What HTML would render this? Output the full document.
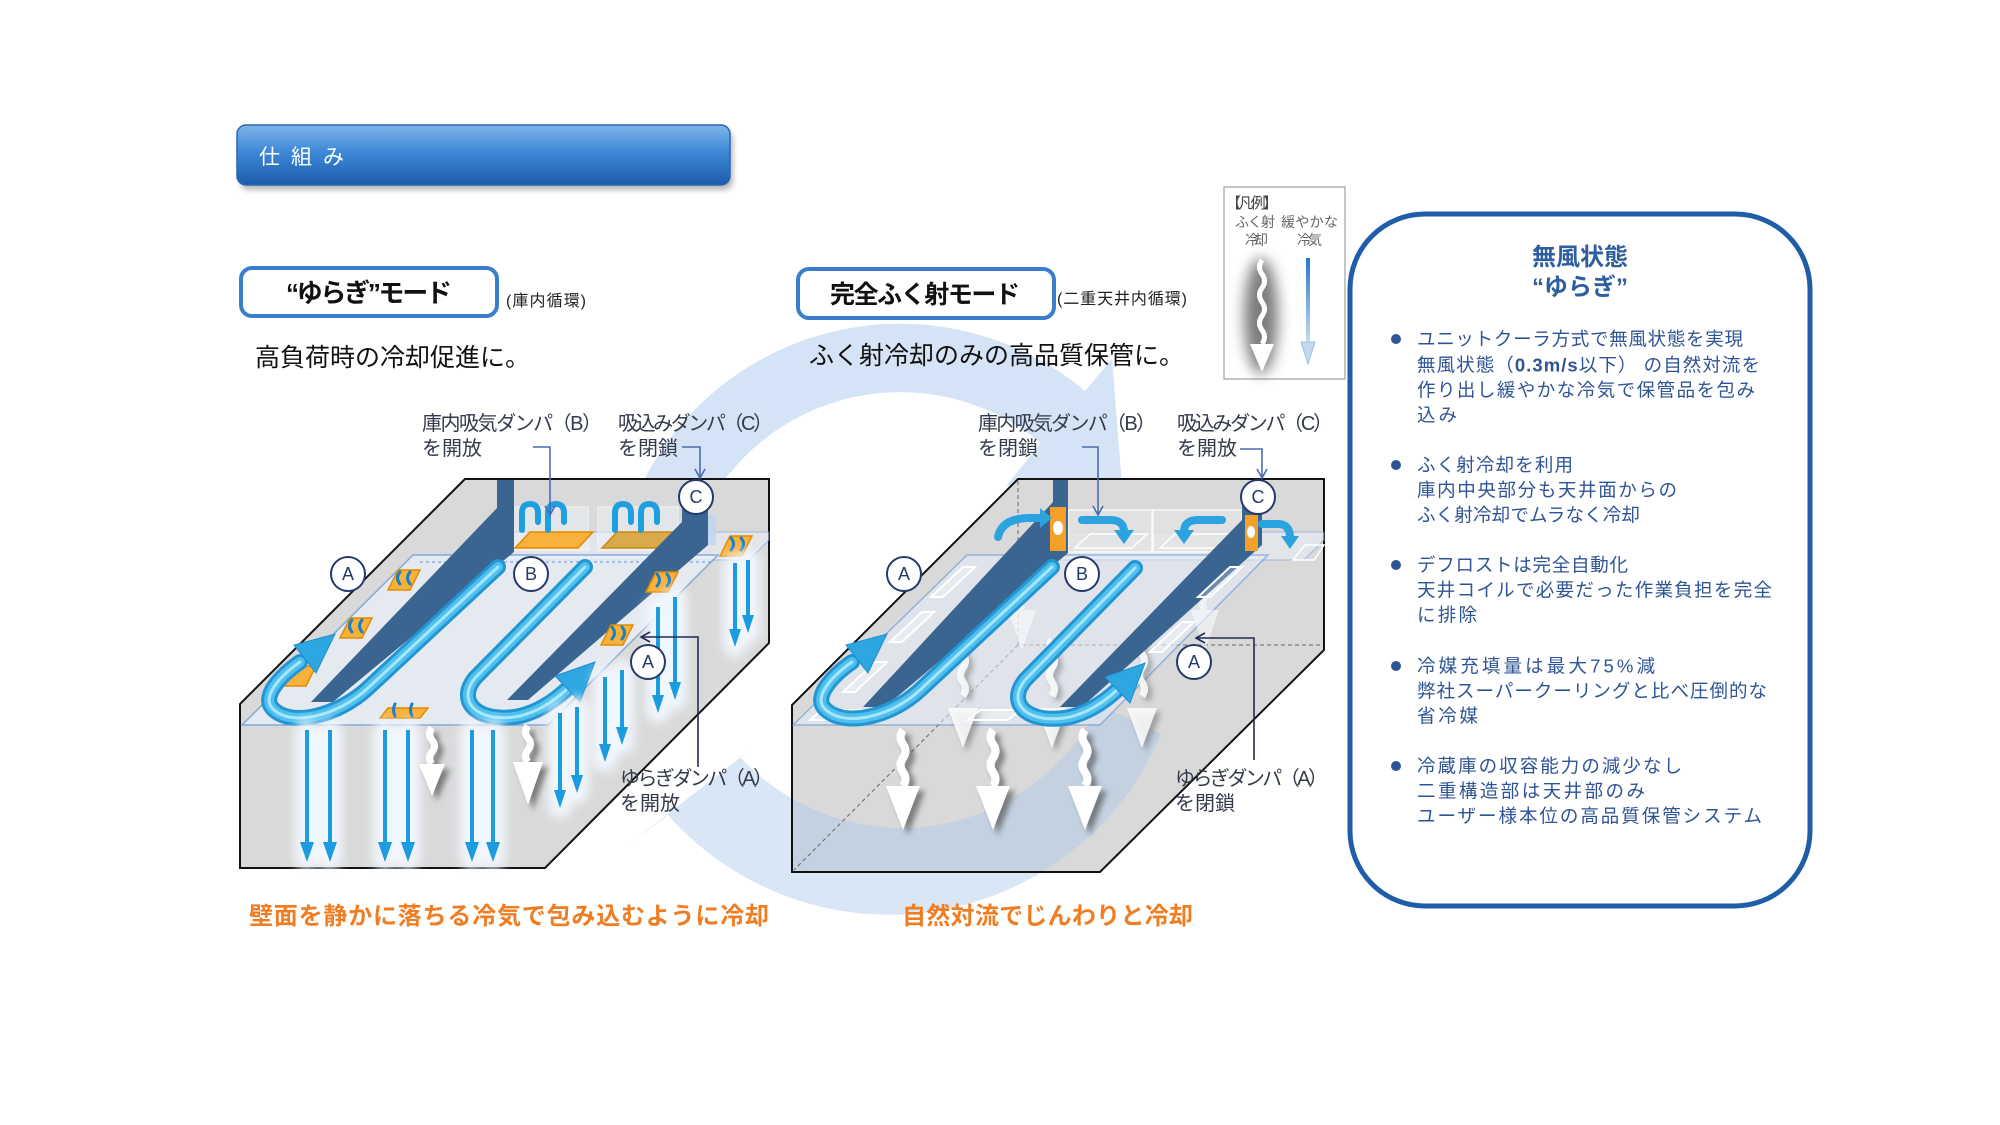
<!DOCTYPE html>
<html><head><meta charset="utf-8">
<style>
html,body{margin:0;padding:0;background:#fff;}
svg{display:block;}
text{font-family:"Liberation Sans","Noto Sans CJK JP",sans-serif;}
</style></head><body>
<svg width="2000" height="1125" viewBox="0 0 2000 1125" xmlns="http://www.w3.org/2000/svg">
<defs>
 <linearGradient id="hdr" x1="0" y1="0" x2="0" y2="1">
  <stop offset="0" stop-color="#7fb5e8"/><stop offset="0.45" stop-color="#3d88d8"/><stop offset="1" stop-color="#1d5cab"/>
 </linearGradient>
 <linearGradient id="lgB" x1="0" y1="0" x2="0" y2="1">
  <stop offset="0" stop-color="#2a78c8"/><stop offset="1" stop-color="#cfe2f4"/>
 </linearGradient>
 <filter id="sd" x="-20%" y="-30%" width="140%" height="160%"><feGaussianBlur stdDeviation="3"/></filter>
 <filter id="gl" x="-200%" y="-30%" width="500%" height="160%"><feGaussianBlur stdDeviation="5"/></filter>
 <filter id="lg" x="-100%" y="-50%" width="300%" height="200%"><feGaussianBlur stdDeviation="7"/></filter>
</defs>

<!-- Header bar -->
<rect x="240" y="130" width="493" height="60" rx="9" fill="#8a8a8a" opacity="0.6" filter="url(#sd)"/>
<rect x="237" y="125" width="493" height="60" rx="9" fill="url(#hdr)" stroke="#2b67b2" stroke-width="1.5"/>
<text x="259" y="164" font-size="21" fill="#fff" textLength="85">仕 組 み</text>

<!-- Mode boxes -->
<rect x="241" y="268" width="256" height="48" rx="11" fill="#fff" stroke="#3a7ecb" stroke-width="4"/>
<text x="369" y="302" font-size="26" font-weight="bold" text-anchor="middle" fill="#111" textLength="166">“ゆらぎ”モード</text>
<text x="506" y="306" font-size="16" fill="#222" textLength="80">(庫内循環)</text>
<text x="255" y="366" font-size="25" fill="#111">高負荷時の冷却促進に。</text>

<rect x="798" y="269" width="256" height="49" rx="11" fill="#fff" stroke="#3a7ecb" stroke-width="4"/>
<text x="925" y="303" font-size="25" font-weight="bold" text-anchor="middle" fill="#111" textLength="190">完全ふく射モード</text>
<text x="1057" y="304" font-size="16" fill="#222" textLength="130">(二重天井内循環)</text>

<!-- upper circular arc -->
<path d="M639,490 A288,288 0 0 1 1085,391 L1112,359 L1123,498 L1006,486 L1041,443 A220,220 0 0 0 701,519 Z" fill="#a9c8ec" opacity="0.5"/>

<text x="809" y="364" font-size="25" fill="#111">ふく射冷却のみの高品質保管に。</text>

<!-- ================= LEFT BOX ================= -->
<path d="M465,479 L769,479 L769,643 L545,868 L240,868 L240,704 Z" fill="#d9d9d9" stroke="#111" stroke-width="2"/>
<polygon points="492,532 769,532 769,540 749,560 470,560" fill="#e8eff8" opacity="0.6" stroke="#7aa3dc" stroke-width="1"/>
<rect x="508" y="507" width="80" height="43" fill="#eef3f9" opacity="0.5" stroke="#fff" stroke-width="1.5"/>
<rect x="598" y="507" width="80" height="43" fill="#eef3f9" opacity="0.5" stroke="#fff" stroke-width="1.5"/>
<polygon points="515,548 530,532 593,532 578,548" fill="#f7b23b" stroke="#e58a00" stroke-width="1.5"/>
<polygon points="602,548 617,532 675,532 660,548" fill="#d9a94a" stroke="#c98a10" stroke-width="1.5"/>
<rect x="493" y="520" width="12" height="28" fill="#bcd6f2" opacity="0.8"/>
<rect x="708" y="515" width="8" height="30" fill="#bcd6f2" opacity="0.8"/>
<g fill="none" stroke="#1f9ee0" stroke-width="6" stroke-linecap="round">
 <path d="M522,530 L522,513 Q522,504 530,504 Q538,504 538,513 L538,522"/>
 <path d="M548,530 L548,513 Q548,504 556,504 Q564,504 564,513 L564,522"/>
 <path d="M615,530 L615,513 Q615,504 623,504 Q631,504 631,513 L631,522"/>
 <path d="M641,530 L641,513 Q641,504 649,504 Q657,504 657,513 L657,522"/>
</g>
<polygon points="242,725 413,555 718,555 548,725" fill="#ecf3fc" opacity="0.68" stroke="#5f92d8" stroke-width="1.5"/>
<line x1="420" y1="562" x2="712" y2="562" stroke="#5f92d8" stroke-width="1" stroke-dasharray="3,3"/>
<polygon points="497,480 514,480 514,552 333,702 311,702 497,508" fill="#3b6591"/>
<polygon points="682,500 708,500 708,545 528,700 507,700 682,522" fill="#3b6591"/>
<g fill="#f7b23b" stroke="#e58a00" stroke-width="1.5">
 <polygon points="388,590 410,590 420,570 398,570"/>
 <polygon points="340,638 362,638 372,618 350,618"/>
 <polygon points="284,686 306,686 316,666 294,666"/>
 <polygon points="646,592 668,592 678,572 656,572"/>
 <polygon points="601,645 623,645 633,625 611,625"/>
 <polygon points="720,556 742,556 752,536 730,536"/>
 <polygon points="380,718 420,718 428,708 388,708"/>
</g>
<g fill="none" stroke="#1a7fc4" stroke-width="3" stroke-linecap="round">
 <path d="M400,572 q-5,6 0,12"/><path d="M410,572 q-5,6 0,12"/>
 <path d="M352,620 q-5,6 0,12"/><path d="M362,620 q-5,6 0,12"/>
 <path d="M657,574 q5,6 0,12"/><path d="M667,574 q5,6 0,12"/>
 <path d="M612,627 q5,6 0,12"/><path d="M622,627 q5,6 0,12"/>
 <path d="M731,538 q5,6 0,12"/><path d="M741,538 q5,6 0,12"/>
 <path d="M395,704 q-3,6 0,12"/><path d="M412,704 q-3,6 0,12"/>
</g>
<g fill="none" stroke-linecap="round" stroke-linejoin="round">
 <path d="M498,567 L368,688 C338,716 290,728 272,708 C262,696 280,676 300,662" stroke="#2295d2" stroke-width="16"/>
 <path d="M498,567 L368,688 C338,716 290,728 272,708 C262,696 280,676 300,662" stroke="#4fc0ee" stroke-width="10"/>
 <path d="M498,567 L368,688 C338,716 290,728 272,708 C262,696 280,676 300,662" stroke="#a6e6fb" stroke-width="3"/>
 <path d="M585,567 L475,678 C455,703 480,724 520,716 C540,711 555,700 566,690" stroke="#2295d2" stroke-width="16"/>
 <path d="M585,567 L475,678 C455,703 480,724 520,716 C540,711 555,700 566,690" stroke="#4fc0ee" stroke-width="10"/>
 <path d="M585,567 L475,678 C455,703 480,724 520,716 C540,711 555,700 566,690" stroke="#a6e6fb" stroke-width="3"/>
</g>
<polygon points="335,634 316,673 294,645" fill="#2ea6e2" stroke="#1f8fd0" stroke-width="1"/>
<polygon points="595,662 580,702 555,676" fill="#2ea6e2" stroke="#1f8fd0" stroke-width="1"/>
<g stroke="#f2f8ff" stroke-width="24" stroke-linecap="round" filter="url(#gl)" opacity="0.95">
 <line x1="307" y1="732" x2="307" y2="858"/><line x1="330" y1="732" x2="330" y2="858"/>
 <line x1="385" y1="732" x2="385" y2="858"/><line x1="408" y1="732" x2="408" y2="858"/>
 <line x1="472" y1="732" x2="472" y2="858"/><line x1="493" y1="732" x2="493" y2="858"/>
 <line x1="560" y1="715" x2="560" y2="806"/><line x1="577" y1="709" x2="577" y2="791"/>
 <line x1="605" y1="679" x2="605" y2="760"/><line x1="622" y1="672" x2="622" y2="743"/>
 <line x1="658" y1="609" x2="658" y2="711"/><line x1="675" y1="599" x2="675" y2="698"/>
 <line x1="735" y1="565" x2="735" y2="645"/><line x1="748" y1="562" x2="748" y2="631"/>
</g>
<g transform="translate(5,5)" filter="url(#sd)" opacity="0.7">
 <path d="M432,728 q-5,6 0,12 t0,12 t0,12" fill="none" stroke="#555" stroke-width="7"/>
 <polygon points="419,764 445,764 432,796" fill="#555"/>
 <path d="M528,726 q-5,6 0,12 t0,12 t0,12" fill="none" stroke="#555" stroke-width="7"/>
 <polygon points="513,762 543,762 528,805" fill="#555"/>
</g>
<path d="M432,728 q-5,6 0,12 t0,12 t0,12" fill="none" stroke="#fff" stroke-width="7"/>
<polygon points="419,764 445,764 432,796" fill="#fff"/>
<path d="M528,726 q-5,6 0,12 t0,12 t0,12" fill="none" stroke="#fff" stroke-width="7"/>
<polygon points="513,762 543,762 528,805" fill="#fff"/>
<g stroke="#1b9be0" stroke-width="4">
 <line x1="307" y1="730" x2="307" y2="846"/><line x1="330" y1="730" x2="330" y2="846"/>
 <line x1="385" y1="730" x2="385" y2="846"/><line x1="408" y1="730" x2="408" y2="846"/>
 <line x1="472" y1="730" x2="472" y2="846"/><line x1="493" y1="730" x2="493" y2="846"/>
 <line x1="560" y1="713" x2="560" y2="794"/><line x1="577" y1="707" x2="577" y2="779"/>
 <line x1="605" y1="677" x2="605" y2="748"/><line x1="622" y1="670" x2="622" y2="731"/>
 <line x1="658" y1="607" x2="658" y2="699"/><line x1="675" y1="597" x2="675" y2="686"/>
 <line x1="735" y1="563" x2="735" y2="633"/><line x1="748" y1="560" x2="748" y2="619"/>
</g>
<g fill="#1b9be0">
 <polygon points="300,842 314,842 307,862"/><polygon points="323,842 337,842 330,862"/>
 <polygon points="378,842 392,842 385,862"/><polygon points="401,842 415,842 408,862"/>
 <polygon points="465,842 479,842 472,862"/><polygon points="486,842 500,842 493,862"/>
 <polygon points="554,790 566,790 560,808"/><polygon points="571,775 583,775 577,793"/>
 <polygon points="599,744 611,744 605,762"/><polygon points="616,727 628,727 622,745"/>
 <polygon points="652,695 664,695 658,713"/><polygon points="669,682 681,682 675,700"/>
 <polygon points="729,629 741,629 735,647"/><polygon points="742,615 754,615 748,633"/>
</g>

<!-- ================= RIGHT BOX ================= -->
<path d="M1018,479 L1324,479 L1324,650 L1100,872 L792,872 L792,705 Z" fill="#d9d9d9"/>
<path d="M1099,705 A220,220 0 0 1 740,757 L750,750 L628,845 L668,815 A295,295 0 0 0 1161,734 Z" fill="#a9c8ec" opacity="0.45"/>
<path d="M1018,479 L1324,479 L1324,650 L1100,872 L792,872 L792,705 Z" fill="none" stroke="#111" stroke-width="2"/>
<g stroke="#666" stroke-width="1" stroke-dasharray="4,3" fill="none">
 <path d="M1018,481 V645 H1322"/><path d="M1018,645 L794,870"/>
</g>
<polygon points="1045,532 1324,532 1324,540 1304,560 1022,560" fill="#e8eff8" opacity="0.6" stroke="#7aa3dc" stroke-width="1"/>
<rect x="1068" y="510" width="84" height="42" fill="#e4e4e4" opacity="0.8" stroke="#fff" stroke-width="1.5"/>
<rect x="1153" y="510" width="89" height="42" fill="#e4e4e4" opacity="0.8" stroke="#fff" stroke-width="1.5"/>
<polygon points="1075,548 1090,534 1147,534 1132,548" fill="none" stroke="#fff" stroke-width="1.5"/>
<polygon points="1160,548 1175,534 1237,534 1222,548" fill="none" stroke="#fff" stroke-width="1.5"/>
<polygon points="1293,560 1305,545 1324,545 1314,560" fill="none" stroke="#fff" stroke-width="1.5"/>
<polygon points="793,725 967,555 1268,555 1100,725" fill="#e6eef9" opacity="0.55" stroke="#5f92d8" stroke-width="1.5"/>
<g opacity="0.55">
 <path d="M1022,568 q-5,7 0,14 t0,14 t0,14" fill="none" stroke="#fff" stroke-width="7"/>
 <polygon points="1008,610 1036,610 1022,650" fill="#fff"/>
 <path d="M1205,568 q-5,7 0,14 t0,14 t0,14" fill="none" stroke="#fff" stroke-width="7"/>
 <polygon points="1191,610 1219,610 1205,650" fill="#fff"/>
</g>
<g transform="translate(4,4)" filter="url(#sd)" opacity="0.45">
 <path d="M963,640 q-5,7 0,14 t0,14 t0,14 t0,14" fill="none" stroke="#555" stroke-width="7"/><polygon points="948,708 978,708 963,748" fill="#555"/>
 <path d="M1052,640 q-5,7 0,14 t0,14 t0,14 t0,14" fill="none" stroke="#555" stroke-width="7"/><polygon points="1037,708 1067,708 1052,748" fill="#555"/>
 <path d="M1142,640 q-5,7 0,14 t0,14 t0,14 t0,14" fill="none" stroke="#555" stroke-width="7"/><polygon points="1127,708 1157,708 1142,748" fill="#555"/>
</g>
<g opacity="0.85">
 <path d="M963,640 q-5,7 0,14 t0,14 t0,14 t0,14" fill="none" stroke="#fff" stroke-width="7"/><polygon points="948,708 978,708 963,748" fill="#fff"/>
 <path d="M1052,640 q-5,7 0,14 t0,14 t0,14 t0,14" fill="none" stroke="#fff" stroke-width="7"/><polygon points="1037,708 1067,708 1052,748" fill="#fff"/>
 <path d="M1142,640 q-5,7 0,14 t0,14 t0,14 t0,14" fill="none" stroke="#fff" stroke-width="7"/><polygon points="1127,708 1157,708 1142,748" fill="#fff"/>
</g>
<polygon points="1053,480 1068,480 1068,553 885,707 863,707 1053,502" fill="#3b6591"/>
<polygon points="1242,500 1262,500 1262,545 1082,707 1060,707 1242,520" fill="#3b6591"/>
<rect x="1050" y="507" width="16" height="44" fill="#f3a12a"/>
<ellipse cx="1058" cy="528" rx="5" ry="7" fill="#fff"/>
<rect x="1245" y="515" width="13" height="36" fill="#f3a12a"/>
<ellipse cx="1251" cy="532" rx="4" ry="6" fill="#fff"/>
<g fill="none" stroke="#2aa3df" stroke-width="8" stroke-linecap="round">
 <path d="M998,537 Q1002,518 1030,518 L1040,518"/>
 <path d="M1082,520 L1110,520 Q1124,520 1124,532"/>
 <path d="M1222,520 L1198,520 Q1184,520 1184,532"/>
 <path d="M1262,524 L1278,524 Q1290,524 1290,538"/>
</g>
<g fill="#2aa3df">
 <polygon points="1040,508 1040,528 1052,518"/>
 <polygon points="1114,530 1134,530 1124,544"/>
 <polygon points="1174,530 1194,530 1184,544"/>
 <polygon points="1281,536 1299,536 1290,549"/>
</g>
<g fill="#ffffff" fill-opacity="0.25" stroke="#fff" stroke-width="2">
 <polygon points="931,597 943,597 975,567 963,567"/>
 <polygon points="890,642 902,642 934,612 922,612"/>
 <polygon points="843,692 855,692 887,662 875,662"/>
 <polygon points="810,720 850,720 862,710 822,710"/>
 <polygon points="968,720 1008,720 1020,710 980,710"/>
 <polygon points="1198,597 1210,597 1242,567 1230,567"/>
 <polygon points="1150,652 1162,652 1194,622 1182,622"/>
</g>
<g fill="none" stroke-linecap="round" stroke-linejoin="round">
 <path d="M1052,567 L920,690 C890,718 842,728 824,708 C814,696 832,676 852,662" stroke="#2295d2" stroke-width="16"/>
 <path d="M1052,567 L920,690 C890,718 842,728 824,708 C814,696 832,676 852,662" stroke="#4fc0ee" stroke-width="10"/>
 <path d="M1052,567 L920,690 C890,718 842,728 824,708 C814,696 832,676 852,662" stroke="#a6e6fb" stroke-width="3"/>
 <path d="M1135,568 L1025,680 C1005,705 1030,725 1070,717 C1090,712 1105,701 1116,691" stroke="#2295d2" stroke-width="16"/>
 <path d="M1135,568 L1025,680 C1005,705 1030,725 1070,717 C1090,712 1105,701 1116,691" stroke="#4fc0ee" stroke-width="10"/>
 <path d="M1135,568 L1025,680 C1005,705 1030,725 1070,717 C1090,712 1105,701 1116,691" stroke="#a6e6fb" stroke-width="3"/>
</g>
<polygon points="887,634 868,673 846,645" fill="#2ea6e2" stroke="#1f8fd0" stroke-width="1"/>
<polygon points="1145,663 1130,703 1105,677" fill="#2ea6e2" stroke="#1f8fd0" stroke-width="1"/>
<g transform="translate(5,5)" filter="url(#sd)" opacity="0.7">
 <path d="M903,730 q-5,7 0,14 t0,14 t0,14 t0,14" fill="none" stroke="#555" stroke-width="8"/><polygon points="886,786 920,786 903,830" fill="#555"/>
 <path d="M993,730 q-5,7 0,14 t0,14 t0,14 t0,14" fill="none" stroke="#555" stroke-width="8"/><polygon points="976,786 1010,786 993,830" fill="#555"/>
 <path d="M1085,730 q-5,7 0,14 t0,14 t0,14 t0,14" fill="none" stroke="#555" stroke-width="8"/><polygon points="1068,786 1102,786 1085,830" fill="#555"/>
</g>
<g>
 <path d="M903,730 q-5,7 0,14 t0,14 t0,14 t0,14" fill="none" stroke="#fff" stroke-width="8"/><polygon points="886,786 920,786 903,830" fill="#fff"/>
 <path d="M993,730 q-5,7 0,14 t0,14 t0,14 t0,14" fill="none" stroke="#fff" stroke-width="8"/><polygon points="976,786 1010,786 993,830" fill="#fff"/>
 <path d="M1085,730 q-5,7 0,14 t0,14 t0,14 t0,14" fill="none" stroke="#fff" stroke-width="8"/><polygon points="1068,786 1102,786 1085,830" fill="#fff"/>
</g>

<!-- ================= LEGEND ================= -->
<rect x="1224" y="187" width="121" height="192" fill="#fff" stroke="#a0a0a0" stroke-width="1.2"/>
<text x="1226" y="208" font-size="15" fill="#444" textLength="52">【凡例】</text>
<text x="1235" y="227" font-size="14" fill="#666" textLength="40">ふく射</text>
<text x="1281" y="227" font-size="14" fill="#666" textLength="57">緩やかな</text>
<text x="1245" y="245" font-size="14" fill="#666" textLength="23">冷却</text>
<text x="1297" y="245" font-size="14" fill="#666" textLength="25">冷気</text>
<ellipse cx="1261" cy="316" rx="17" ry="58" fill="#6e6e6e" filter="url(#lg)" opacity="0.9"/>
<path d="M1262,260 q-5,7 0,14 t0,14 t0,14 t0,14 t0,14 t0,14" fill="none" stroke="#fff" stroke-width="5"/>
<polygon points="1250,344 1274,344 1262,372" fill="#fff"/>
<rect x="1306" y="258" width="4" height="90" fill="url(#lgB)"/>
<polygon points="1301,342 1315,342 1308,364" fill="#c3d9f0" stroke="#9fc0e4" stroke-width="1"/>

<!-- ================= RIGHT PANEL ================= -->
<rect x="1350" y="214" width="460" height="692" rx="75" fill="#fff" stroke="#1f5da8" stroke-width="5"/>
<text x="1580" y="265" font-size="24" font-weight="bold" text-anchor="middle" fill="#2e5e9e">無風状態</text>
<text x="1580" y="295" font-size="24" font-weight="bold" text-anchor="middle" fill="#2e5e9e">“ゆらぎ”</text>
<g fill="#2f5496">
 <circle cx="1396" cy="339" r="5"/><circle cx="1396" cy="465" r="5"/><circle cx="1396" cy="565" r="5"/>
 <circle cx="1396" cy="666" r="5"/><circle cx="1396" cy="766" r="5"/>
</g>
<g font-size="18.5" fill="#2f5496">
 <text x="1417" y="345.5" textLength="326">ユニットクーラ方式で無風状態を実現</text>
 <text x="1417" y="371.5" textLength="343">無風状態（<tspan font-weight="bold">0.3m/s</tspan>以下） の自然対流を</text>
 <text x="1417" y="396.5" textLength="338">作り出し緩やかな冷気で保管品を包み</text>
 <text x="1417" y="421.5" textLength="40">込み</text>
 <text x="1417" y="471.5" textLength="156">ふく射冷却を利用</text>
 <text x="1417" y="496.5" textLength="260">庫内中央部分も天井面からの</text>
 <text x="1417" y="521.5" textLength="223">ふく射冷却でムラなく冷却</text>
 <text x="1417" y="571.5" textLength="211">デフロストは完全自動化</text>
 <text x="1417" y="596.5" textLength="355">天井コイルで必要だった作業負担を完全</text>
 <text x="1417" y="621.5" textLength="60">に排除</text>
 <text x="1417" y="672.5" textLength="238">冷媒充填量は最大75%減</text>
 <text x="1417" y="697.5" textLength="350">弊社スーパークーリングと比べ圧倒的な</text>
 <text x="1417" y="722.5" textLength="61">省冷媒</text>
 <text x="1417" y="772.5" textLength="265">冷蔵庫の収容能力の減少なし</text>
 <text x="1417" y="797.5" textLength="228">二重構造部は天井部のみ</text>
 <text x="1417" y="822.5" textLength="345">ユーザー様本位の高品質保管システム</text>
</g>

<!-- ================= LABELS & CONNECTORS ================= -->
<g font-size="20" fill="#333a4a">
 <text x="422" y="430" textLength="180">庫内吸気ダンパ（B）</text>
 <text x="422" y="455">を開放</text>
 <text x="618" y="430" textLength="155">吸込みダンパ（C）</text>
 <text x="618" y="455">を閉鎖</text>
 <text x="620" y="785" textLength="153">ゆらぎダンパ（A）</text>
 <text x="620" y="810">を開放</text>
 <text x="978" y="430" textLength="178">庫内吸気ダンパ（B）</text>
 <text x="978" y="455">を閉鎖</text>
 <text x="1177" y="430" textLength="156">吸込みダンパ（C）</text>
 <text x="1177" y="455">を開放</text>
 <text x="1175" y="785" textLength="153">ゆらぎダンパ（A）</text>
 <text x="1175" y="810">を閉鎖</text>
</g>
<g fill="none" stroke="#4a6cb0" stroke-width="1.6">
 <path d="M533,447 H550 V514"/><path d="M545,506 L550,515 L555,506"/>
 <path d="M682,447 H700 V477"/><path d="M695,469 L700,478 L705,469"/>
 <path d="M1082,447 H1098 V514"/><path d="M1093,506 L1098,515 L1103,506"/>
 <path d="M1240,449 H1262 V477"/><path d="M1257,469 L1262,478 L1267,469"/>
</g>
<g fill="none" stroke="#1f2b58" stroke-width="1.6">
 <path d="M698,767 V637 H642"/><path d="M650,632 L641,637 L650,642"/>
 <path d="M1254,760 V638 H1197"/><path d="M1205,633 L1196,638 L1205,643"/>
</g>
<g fill="#fff" stroke="#26396a" stroke-width="2">
 <circle cx="348" cy="574" r="17"/><circle cx="531" cy="574" r="17"/>
 <circle cx="696" cy="497" r="17"/><circle cx="648" cy="662" r="17"/>
 <circle cx="904" cy="574" r="17"/><circle cx="1082" cy="574" r="17"/>
 <circle cx="1258" cy="497" r="17"/><circle cx="1194" cy="662" r="17"/>
</g>
<g font-size="18" fill="#26396a" text-anchor="middle">
 <text x="348" y="580">A</text><text x="531" y="580">B</text>
 <text x="696" y="503">C</text><text x="648" y="668">A</text>
 <text x="904" y="580">A</text><text x="1082" y="580">B</text>
 <text x="1258" y="503">C</text><text x="1194" y="668">A</text>
</g>

<text x="249" y="924" font-size="24" font-weight="bold" fill="#f07d22" textLength="520">壁面を静かに落ちる冷気で包み込むように冷却</text>
<text x="902" y="924" font-size="24" font-weight="bold" fill="#f07d22" textLength="291">自然対流でじんわりと冷却</text>
</svg>
</body></html>
